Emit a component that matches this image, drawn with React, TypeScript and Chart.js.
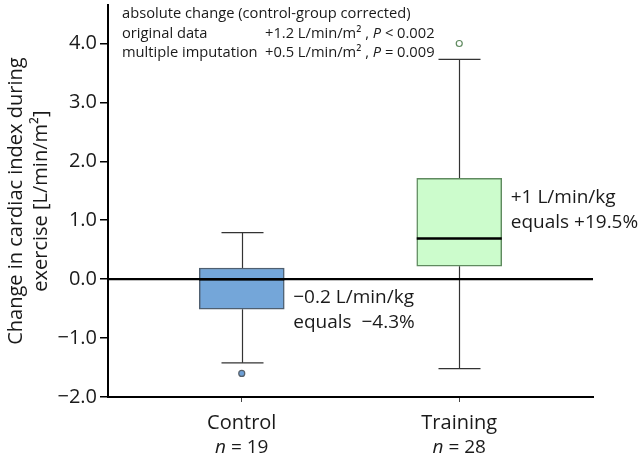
import { useEffect, useRef } from 'react';
import { Chart, registerables } from 'chart.js';

Chart.register(...registerables);

const FONT = '"Open Sans", "DejaVu Sans", sans-serif';
const TEXT = '#1a1a1a';

// ---- data ----
const categories = ['Control', 'Training'];
const nCounts = ['19', '28'];
const q1 = [-0.51, 0.22];
const q3 = [0.19, 1.71];
const medians = [0.0, 0.69];
const whiskerLow = [-1.42, -1.52];
const whiskerHigh = [0.79, 3.73];
const outliers = [-1.6, 4.0];
const yTicks = [-2, -1, 0, 1, 2, 3, 4];
const boxLabels = [
  ['\u22120.2 L/min/kg', 'equals  \u22124.3%'],
  ['+1 L/min/kg', 'equals +19.5%'],
];

const boxFill = ['#74a6d9', '#ccfccc'];
const boxBorder = ['#4f5f70', '#5f8a5f'];
const outlierFill = ['#6d9fd6', '#ffffff'];
const outlierBorder = ['#56606a', '#5f8a5f'];

type Run = { t: string; it?: boolean };

function fontFor(r: Run, size: number) {
  return `${r.it ? 'italic ' : ''}${size}px ${FONT}`;
}

function drawRuns(ctx: CanvasRenderingContext2D, x: number, y: number, runs: Run[], size: number, align: 'left' | 'center' = 'left') {
  const widths = runs.map((r) => {
    ctx.font = fontFor(r, size);
    return ctx.measureText(r.t).width;
  });
  const total = widths.reduce((a, b) => a + b, 0);
  let cx = align === 'center' ? x - total / 2 : x;
  ctx.textAlign = 'left';
  ctx.textBaseline = 'middle';
  runs.forEach((r, i) => {
    ctx.font = fontFor(r, size);
    ctx.fillText(r.t, cx, y);
    cx += widths[i];
  });
}

const boxPlugin = {
  id: 'boxPlugin',
  beforeDatasetsDraw(chart: any) {
    const { ctx, scales } = chart;
    const xs = scales.x;
    const ys = scales.y;
    ctx.save();
    ctx.strokeStyle = '#333';
    ctx.lineWidth = 1.2;
    categories.forEach((_, i) => {
      const px = Math.round(xs.getPixelForValue(i)) + 0.5;
      const capHalf = 21;
      const segs: [number, number][] = [
        [q3[i], whiskerHigh[i]],
        [q1[i], whiskerLow[i]],
      ];
      segs.forEach(([a, b]) => {
        ctx.beginPath();
        ctx.moveTo(px, ys.getPixelForValue(a));
        ctx.lineTo(px, ys.getPixelForValue(b));
        ctx.stroke();
        const yb = ys.getPixelForValue(b);
        ctx.beginPath();
        ctx.moveTo(px - capHalf, yb);
        ctx.lineTo(px + capHalf, yb);
        ctx.stroke();
      });
    });
    ctx.restore();
  },
  afterDatasetsDraw(chart: any) {
    const { ctx, scales, chartArea } = chart;
    const xs = scales.x;
    const ys = scales.y;
    const meta = chart.getDatasetMeta(0);
    ctx.save();
    // medians
    ctx.strokeStyle = '#000';
    ctx.lineWidth = 2.5;
    categories.forEach((_, i) => {
      const bar = meta.data[i];
      const half = bar.width / 2;
      const y = ys.getPixelForValue(medians[i]);
      ctx.beginPath();
      ctx.moveTo(bar.x - half, y);
      ctx.lineTo(bar.x + half, y);
      ctx.stroke();
    });
    // zero line
    ctx.lineWidth = 2.2;
    const y0 = ys.getPixelForValue(0);
    ctx.beginPath();
    ctx.moveTo(chartArea.left, y0);
    ctx.lineTo(chartArea.right, y0);
    ctx.stroke();

    ctx.fillStyle = TEXT;
    // box labels
    categories.forEach((_, i) => {
      const bar = meta.data[i];
      const lx = bar.x + bar.width / 2 + 9;
      const top = i === 0 ? ys.getPixelForValue(q1[i]) - 12 : ys.getPixelForValue(q3[i]) + 19;
      boxLabels[i].forEach((line, k) => {
        drawRuns(ctx, lx, top + k * 25, [{ t: line }], 19);
      });
    });
    // n labels
    categories.forEach((_, i) => {
      drawRuns(ctx, xs.getPixelForValue(i), 448, [{ t: 'n', it: true }, { t: ' = ' + nCounts[i] }], 19, 'center');
    });
    // annotation block
    const ax = chartArea.left + 14;
    const col2 = ax + 143;
    const fs = 14.7;
    drawRuns(ctx, ax, 14, [{ t: 'absolute change (control-group corrected)' }], fs);
    drawRuns(ctx, ax, 34, [{ t: 'original data' }], fs);
    drawRuns(ctx, col2, 34, [{ t: '+1.2 L/min/m\u00b2 , ' }, { t: 'P', it: true }, { t: ' < 0.002' }], fs);
    drawRuns(ctx, ax, 53, [{ t: 'multiple imputation' }], fs);
    drawRuns(ctx, col2, 53, [{ t: '+0.5 L/min/m\u00b2 , ' }, { t: 'P', it: true }, { t: ' = 0.009' }], fs);
    ctx.restore();
  },
};

function fmtTick(v: number) {
  const s = Math.abs(v).toFixed(1);
  return v < 0 ? '\u2212' + s : s;
}

export default function App() {
  const ref = useRef<HTMLCanvasElement>(null);
  useEffect(() => {
    document.body.style.margin = '0';
    const chart = new Chart(ref.current as HTMLCanvasElement, {
      type: 'bar',
      data: {
        datasets: [
          {
            type: 'bar',
            data: categories.map((_, i) => ({ x: i, y: [q1[i], q3[i]] })) as any,
            backgroundColor: boxFill,
            borderColor: boxBorder,
            borderWidth: 1.5,
            borderSkipped: false,
            barThickness: 85,
            order: 2,
          } as any,
          {
            type: 'scatter',
            data: categories.map((_, i) => ({ x: i, y: outliers[i] })),
            pointRadius: 3,
            pointBackgroundColor: outlierFill,
            pointBorderColor: outlierBorder,
            pointBorderWidth: 1.2,
            order: 1,
          } as any,
        ],
      },
      options: {
        responsive: false,
        maintainAspectRatio: false,
        animation: false,
        layout: { padding: { top: 2, right: 47, left: 0, bottom: 0 } },
        plugins: { legend: { display: false }, tooltip: { enabled: false } },
        scales: {
          x: {
            type: 'linear',
            min: -0.615,
            max: 1.615,
            offset: false,
            afterBuildTicks: (s: any) => {
              s.ticks = categories.map((_, i) => ({ value: i }));
            },
            afterFit: (s: any) => {
              s.height = 60;
              s.paddingLeft = 0;
              s.paddingRight = 0;
            },
            ticks: {
              callback: (_v: any, idx: number) => categories[idx],
              font: { family: FONT, size: 20 },
              color: TEXT,
              padding: 9,
              autoSkip: false,
              maxRotation: 0,
            },
            grid: { offset: false, drawOnChartArea: false, drawTicks: true, tickLength: 5, color: '#444', lineWidth: 1 },
            border: { display: true, color: '#000', width: 2 },
          },
          y: {
            min: -2,
            max: 4.65,
            afterBuildTicks: (s: any) => {
              s.ticks = yTicks.map((v) => ({ value: v }));
            },
            afterFit: (s: any) => {
              s.width = 108;
              s.paddingTop = 0;
              s.paddingBottom = 0;
            },
            ticks: {
              callback: (v: any) => fmtTick(Number(v)),
              font: { family: FONT, size: 20 },
              color: TEXT,
              padding: 3,
            },
            grid: { drawOnChartArea: false, drawTicks: true, tickLength: 8, color: '#000', lineWidth: 1.5 },
            border: { display: true, color: '#000', width: 2 },
            title: {
              display: true,
              text: ['Change in cardiac index during', 'exercise [L/min/m\u00b2]'],
              font: { family: FONT, size: 20, lineHeight: 1.25 },
              color: TEXT,
              padding: { top: 3.5, bottom: 0 },
            },
          },
        },
      },
      plugins: [boxPlugin],
    } as any);
    return () => chart.destroy();
  }, []);
  return (
    <div style={{ position: 'absolute', left: 0, top: 0, width: 640, height: 457 }}>
      <canvas ref={ref} width={640} height={457} style={{ width: 640, height: 457 }} />
    </div>
  );
}
